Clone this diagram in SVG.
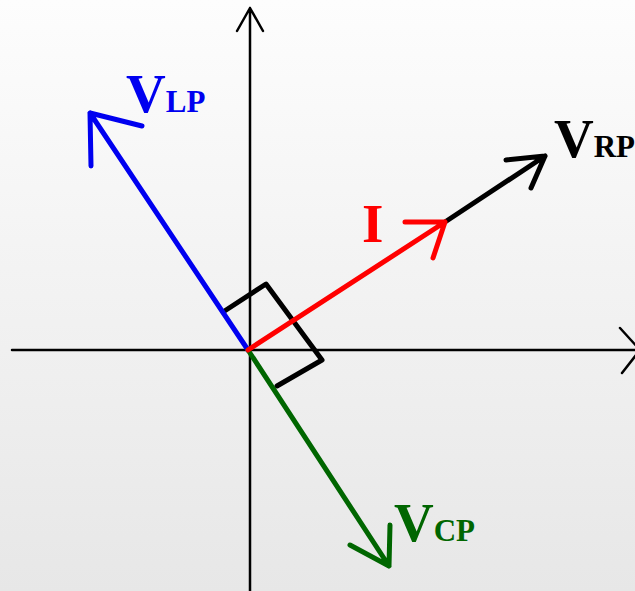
<svg xmlns="http://www.w3.org/2000/svg" width="635" height="591" viewBox="0 0 635 591">
<defs>
<linearGradient id="bg" x1="0" y1="0" x2="0" y2="1">
<stop offset="0" stop-color="#fdfdfd"/>
<stop offset="1" stop-color="#e7e7e7"/>
</linearGradient>
<style>
.ax{stroke:#000;stroke-width:2.5;fill:none;stroke-linecap:round;stroke-linejoin:round}
.vec{stroke-width:5;fill:none;stroke-linecap:round;stroke-linejoin:round}
.lbl{font-family:"Liberation Serif","Times New Roman",serif;font-weight:bold}
.big{font-size:55px}
.sub{font-size:31px}
</style>
</defs>
<rect width="635" height="591" fill="url(#bg)"/>
<g id="connectors">
<g id="axes">
<path class="ax" d="M250,591 V8 M237,31 L250,8 L263,31"/>
<path class="ax" d="M12,350 H638 M620,328 L640,350 L622,373"/>
</g>
<path id="right-angle" class="vec" stroke="#000" d="M223,312 L266,284 L322,360 L277,386"/>
<g id="v-lp"><path class="vec" stroke="#0000f0" d="M248,350 L90,113 M91,166 L90,113 L142,126"/></g>
<g id="v-cp"><path class="vec" stroke="#006600" d="M248,350 L389,566 M390,525 L389,566 L350,545"/></g>
<g id="v-rp"><path class="vec" stroke="#000" d="M445,222 L545,156 M506,160 L545,156 L531,188"/></g>
<g id="i"><path class="vec" stroke="#ff0000" d="M248,350 L445,222 M405,222 L445,222 L433,258"/></g>
</g>
<g id="label-vlp"><text class="lbl" fill="#0000f0" x="126" y="112"><tspan class="big">V</tspan><tspan class="sub">LP</tspan></text></g>
<g id="label-vrp"><text class="lbl" fill="#000" x="554" y="157"><tspan class="big">V</tspan><tspan class="sub">RP</tspan></text></g>
<g id="label-vcp"><text class="lbl" fill="#006600" x="394" y="541"><tspan class="big">V</tspan><tspan class="sub">CP</tspan></text></g>
<g id="label-i"><text class="lbl big" fill="#ff0000" x="362" y="242">I</text></g>
</svg>
